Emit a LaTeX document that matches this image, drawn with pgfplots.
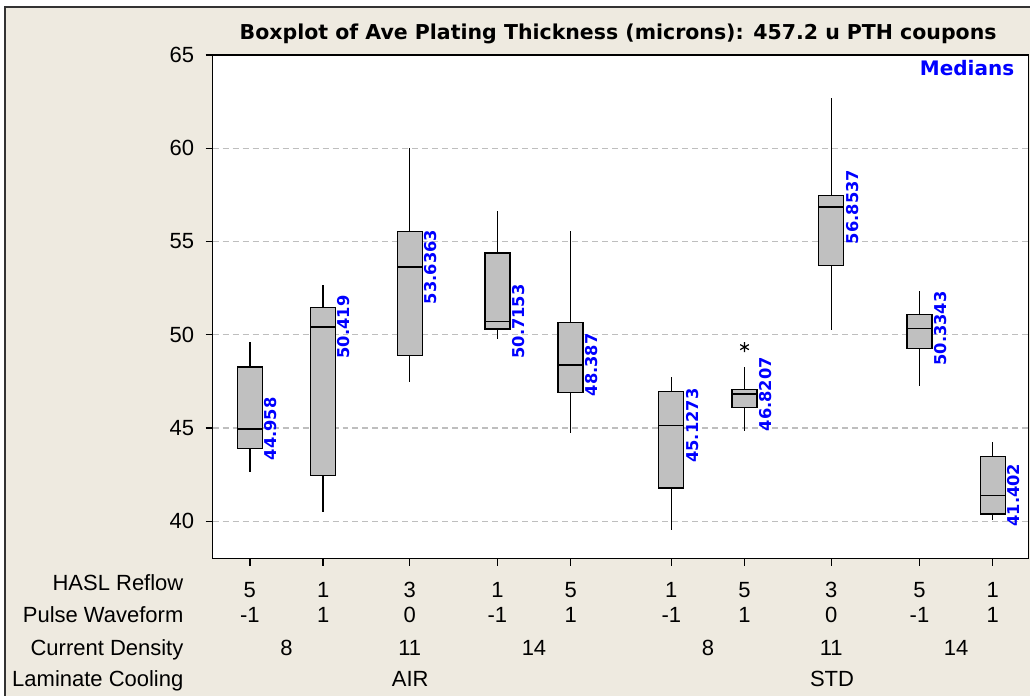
\documentclass[border=0pt]{standalone}
\usepackage{pgfplots}
\pgfplotsset{compat=1.18}
\usepgfplotslibrary{statistics}
\usepackage{fontspec}
\setmainfont{Liberation Sans}
\newfontfamily\djv{DejaVu Sans}
\definecolor{bg}{RGB}{238,234,224}
\definecolor{boxgray}{RGB}{192,192,192}
\definecolor{gridgray}{RGB}{190,190,190}
\tikzset{
  medlab/.style={rotate=90, anchor=north, inner sep=0pt, text=blue, font=\djv\bfseries\fontsize{16.3}{19}\selectfont},
  rowtxt/.style={anchor=base, font=\fontsize{22}{26}\selectfont},
  rowlab/.style={anchor=base east, font=\fontsize{22}{26}\selectfont},
}
\pgfplotsset{bx/.style={black, boxplot/draw direction=y, boxplot/box extend=0.341, boxplot/whisker extend=0}}
\begin{document}
\begin{tikzpicture}
\fill[white] (0pt,0pt) rectangle (1031pt,696pt);
\fill[bg] (5pt,0pt) rectangle (1031pt,689pt);
\draw[black!80, line width=1.2pt] (5pt,0pt) -- (5pt,689pt) -- (1031pt,689pt);
\begin{axis}[
  at={(212.7pt,137pt)}, anchor=south west,
  scale only axis, width=816.3pt, height=504pt,
  xmin=0.4913, xmax=11.623, ymin=38, ymax=65,
  axis background/.style={fill=white},
  axis line style={line width=1.3pt, black},
  ytick={40,45,50,55,60,65},
  xtick={1,2,3.182,4.378,5.377,6.751,7.750,8.933,10.137,11.136},
  xticklabels={5,1,3,1,5,1,5,3,5,1},
  tick align=outside, major tick length=7pt,
  tick style={black, line width=1.3pt},
  xtick pos=bottom, ytick pos=left,
  /pgf/number format/assume math mode=true,
  ticklabel style={font=\fontsize{22}{26}\selectfont},
  yticklabel style={xshift=-8pt},
  xticklabel style={anchor=base, yshift=-32pt},
  ymajorgrids, major grid style={gridgray, line width=1.2pt, dash pattern=on 6pt off 4pt},
  clip=false,
  boxplot/every median/.style={black, line width=1.3pt},
  boxplot/every whisker/.style={black, line width=1.3pt},
  boxplot/every box/.style={draw=black, fill=boxgray, line width=1.3pt},
]
\addplot[bx, boxplot prepared={draw position=1, lower whisker=42.65, lower quartile=43.90, median=44.958, upper quartile=48.27, upper whisker=49.64}] coordinates {};
\addplot[bx, boxplot prepared={draw position=2, lower whisker=40.48, lower quartile=42.47, median=50.419, upper quartile=51.45, upper whisker=52.68}] coordinates {};
\addplot[bx, boxplot prepared={draw position=3.182, lower whisker=47.47, lower quartile=48.90, median=53.6363, upper quartile=55.54, upper whisker=60.00}] coordinates {};
\addplot[bx, boxplot prepared={draw position=4.378, lower whisker=49.77, lower quartile=50.31, median=50.7153, upper quartile=54.38, upper whisker=56.66}] coordinates {};
\addplot[bx, boxplot prepared={draw position=5.377, lower whisker=44.75, lower quartile=46.91, median=48.387, upper quartile=50.66, upper whisker=55.59}] coordinates {};
\addplot[bx, boxplot prepared={draw position=6.751, lower whisker=39.56, lower quartile=41.79, median=45.1273, upper quartile=46.97, upper whisker=47.72}] coordinates {};
\addplot[bx, mark=asterisk, mark size=5pt, mark options={black, line width=1.2pt}, boxplot prepared={draw position=7.750, lower whisker=44.82, lower quartile=46.11, median=46.8207, upper quartile=47.06, upper whisker=48.25}] coordinates {(0,49.34)};
\addplot[bx, boxplot prepared={draw position=8.933, lower whisker=50.27, lower quartile=53.70, median=56.8537, upper quartile=57.46, upper whisker=62.68}] coordinates {};
\addplot[bx, boxplot prepared={draw position=10.137, lower whisker=47.23, lower quartile=49.27, median=50.3343, upper quartile=51.07, upper whisker=52.36}] coordinates {};
\addplot[bx, boxplot prepared={draw position=11.136, lower whisker=40.06, lower quartile=40.40, median=41.402, upper quartile=43.48, upper whisker=44.23}] coordinates {};
% median labels
\node[medlab] at (axis cs:1.198,44.958) {44.958};
\node[medlab] at (axis cs:2.198,50.419) {50.419};
\node[medlab] at (axis cs:3.380,53.6363) {53.6363};
\node[medlab] at (axis cs:4.576,50.7153) {50.7153};
\node[medlab] at (axis cs:5.575,48.387) {48.387};
\node[medlab] at (axis cs:6.949,45.1273) {45.1273};
\node[medlab] at (axis cs:7.948,46.8207) {46.8207};
\node[medlab] at (axis cs:9.131,56.8537) {56.8537};
\node[medlab] at (axis cs:10.335,50.3343) {50.3343};
\node[medlab] at (axis cs:11.334,41.402) {41.402};
% row labels
\node[rowlab, yshift=-32pt] at (axis cs:0.1409,38) {HASL Reflow};
\node[rowlab, yshift=-64pt] at (axis cs:0.1409,38) {Pulse Waveform};
\node[rowlab, yshift=-97pt] at (axis cs:0.1409,38) {Current Density};
\node[rowlab, yshift=-128pt] at (axis cs:0.1409,38) {Laminate Cooling};
% pulse waveform row
\node[rowtxt, yshift=-64pt] at (axis cs:1,38) {-1};
\node[rowtxt, yshift=-64pt] at (axis cs:2,38) {1};
\node[rowtxt, yshift=-64pt] at (axis cs:3.182,38) {0};
\node[rowtxt, yshift=-64pt] at (axis cs:4.378,38) {-1};
\node[rowtxt, yshift=-64pt] at (axis cs:5.377,38) {1};
\node[rowtxt, yshift=-64pt] at (axis cs:6.751,38) {-1};
\node[rowtxt, yshift=-64pt] at (axis cs:7.750,38) {1};
\node[rowtxt, yshift=-64pt] at (axis cs:8.933,38) {0};
\node[rowtxt, yshift=-64pt] at (axis cs:10.137,38) {-1};
\node[rowtxt, yshift=-64pt] at (axis cs:11.136,38) {1};
% current density row
\node[rowtxt, yshift=-97pt] at (axis cs:1.499,38) {8};
\node[rowtxt, yshift=-97pt] at (axis cs:3.182,38) {11};
\node[rowtxt, yshift=-97pt] at (axis cs:4.877,38) {14};
\node[rowtxt, yshift=-97pt] at (axis cs:7.250,38) {8};
\node[rowtxt, yshift=-97pt] at (axis cs:8.933,38) {11};
\node[rowtxt, yshift=-97pt] at (axis cs:10.636,38) {14};
% laminate cooling row
\node[rowtxt, yshift=-128pt] at (axis cs:3.189,38) {AIR};
\node[rowtxt, yshift=-128pt] at (axis cs:8.944,38) {STD};
\end{axis}
\node[anchor=base, font=\djv\bfseries\fontsize{20.5}{24}\selectfont] at (618.5pt,656pt) {Boxplot of Ave Plating Thickness (microns): 457.2 u PTH coupons};
\node[anchor=base east, inner sep=0pt, text=blue, font=\djv\bfseries\fontsize{20}{24}\selectfont] at (1015pt,620pt) {Medians};
\end{tikzpicture}
\end{document}
